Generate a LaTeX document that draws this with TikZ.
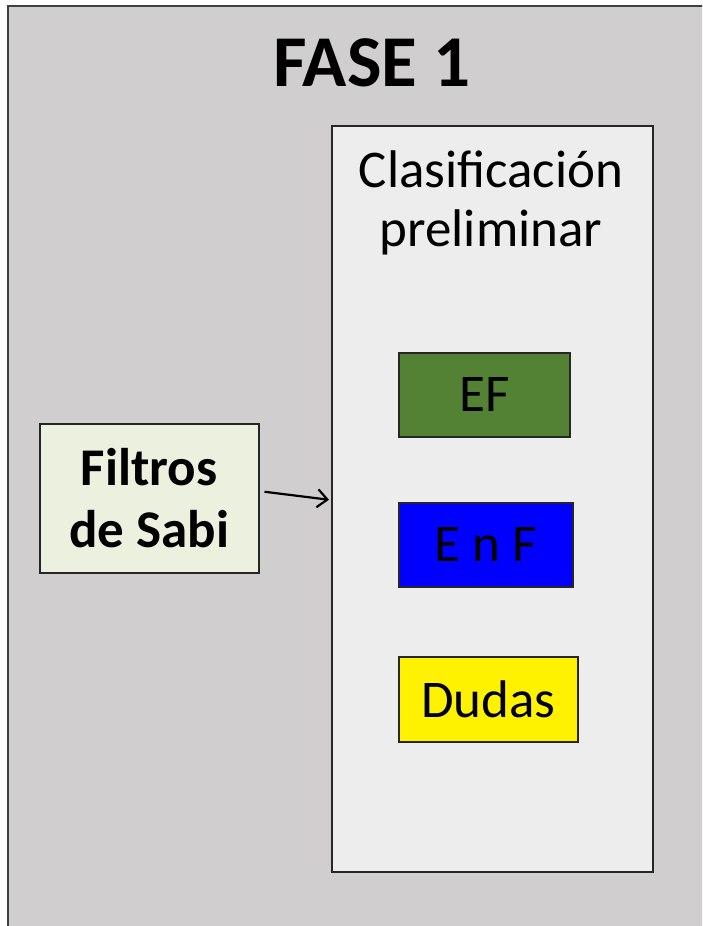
\documentclass[tikz,border=0pt]{standalone}
\usepackage{fontspec}
\setmainfont{Carlito}
\usetikzlibrary{arrows.meta}
\definecolor{bggray}{HTML}{D0CECE}
\definecolor{panelgray}{HTML}{EDEDED}
\definecolor{paleg}{HTML}{EBF1DE}
\definecolor{efgreen}{HTML}{548235}
\tikzset{
  box/.style={draw=black!85, line width=1.5pt, inner sep=0pt, anchor=north west},
  lbl/.style={font=\fontsize{53}{62}\selectfont, align=center, inner sep=0pt}
}
\begin{document}
\begin{tikzpicture}[x=1pt,y=-1pt]
\useasboundingbox (0,0) rectangle (702,926);
\clip (0,0) rectangle (702,926);
\fill[white] (0,0) rectangle (702,926);
\draw[fill=bggray, draw=black!75, line width=1.5pt] (8,6) rectangle (720,950);
\node[font=\fontsize{73}{86}\bfseries\selectfont, anchor=base] (title) at (372,86) {FASE 1};
\node[box, fill=panelgray, minimum width=321pt, minimum height=746pt] (big) at (331,125) {};
\node[lbl, anchor=base] (cl1) at (491,187) {Clasificación};
\node[lbl, anchor=base] (cl2) at (491,246) {preliminar};
\node[box, fill=paleg, minimum width=219pt, minimum height=149pt, lbl, font=\fontsize{53}{62}\bfseries\selectfont] (filtros) at (39,423) {Filtros\\de Sabi};
\node[box, fill=efgreen, minimum width=171pt, minimum height=84pt, lbl] (ef) at (398,352) {EF};
\node[box, fill=blue, minimum width=174pt, minimum height=84pt, lbl] (enf) at (398,502) {E n F};
\node[box, fill=yellow, minimum width=179pt, minimum height=85pt, lbl] (dudas) at (398,656) {Dudas};
\draw[line width=2.2pt, -{Straight Barb[length=10pt,width=18pt]}] ([xshift=5pt,yshift=6.5pt]filtros.east) -- ([xshift=-2pt,yshift=-1pt]big.west);
\end{tikzpicture}
\end{document}
